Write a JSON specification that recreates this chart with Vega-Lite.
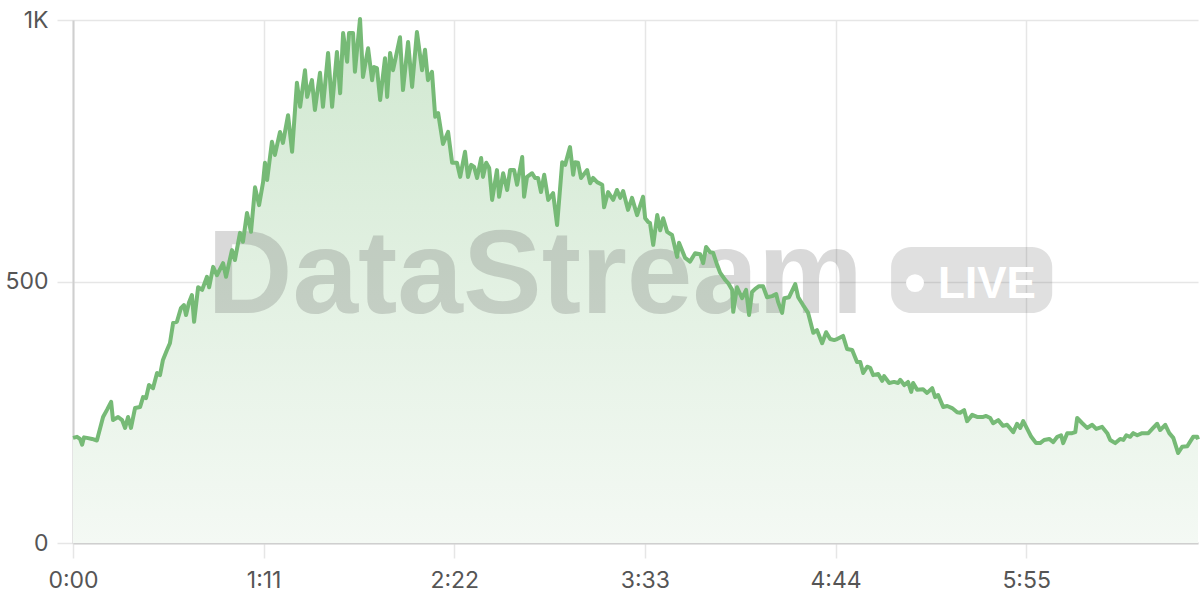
{
  "$schema": "https://vega.github.io/schema/vega-lite/v6.json",
  "width": 1125,
  "height": 523,
  "autosize": {"type": "none"},
  "padding": {"left": 73, "top": 20, "right": 2, "bottom": 57},
  "background": "white",
  "config": {"view": {"stroke": null}, "font": "Inter"},
  "datasets": {
    "series": [
      {"t":0,"v":201},{"t":1.5,"v":203},{"t":2.6,"v":199},{"t":3.4,"v":188},{"t":4.1,"v":202},{"t":5.2,"v":201},{"t":7.1,"v":199},{"t":8.9,"v":196},
      {"t":11.2,"v":241},{"t":12.7,"v":255},{"t":14.2,"v":270},{"t":14.9,"v":235},{"t":16.8,"v":241},{"t":18.3,"v":235},{"t":19.4,"v":220},{"t":20.5,"v":241},
      {"t":21.6,"v":220},{"t":23.1,"v":258},{"t":25.0,"v":260},{"t":26.1,"v":279},{"t":27.2,"v":277},{"t":28.3,"v":302},{"t":29.8,"v":296},{"t":31.3,"v":325},
      {"t":32.4,"v":321},{"t":33.5,"v":350},{"t":35.0,"v":369},{"t":36.1,"v":382},{"t":37.3,"v":421},{"t":38.7,"v":423},{"t":40.2,"v":449},{"t":41.3,"v":455},
      {"t":42.1,"v":436},{"t":43.2,"v":460},{"t":44.3,"v":474},{"t":45.1,"v":423},{"t":46.6,"v":489},{"t":48.1,"v":484},{"t":49.9,"v":509},{"t":50.7,"v":489},
      {"t":52.2,"v":528},{"t":53.6,"v":512},{"t":55.9,"v":535},{"t":57.0,"v":509},{"t":59.2,"v":560},{"t":60.3,"v":541},{"t":62.2,"v":593},{"t":63.3,"v":576},
      {"t":64.8,"v":631},{"t":66.3,"v":595},{"t":67.8,"v":680},{"t":69.3,"v":646},{"t":70.8,"v":690},{"t":71.5,"v":727},{"t":72.3,"v":694},{"t":74.1,"v":767},
      {"t":75.2,"v":742},{"t":77.1,"v":786},{"t":78.2,"v":765},{"t":80.1,"v":818},{"t":81.6,"v":748},{"t":83.4,"v":880},{"t":84.6,"v":834},{"t":86.4,"v":904},
      {"t":87.2,"v":853},{"t":89.0,"v":885},{"t":90.1,"v":828},{"t":92.0,"v":899},{"t":93.1,"v":834},{"t":95.0,"v":937},{"t":96.5,"v":834},{"t":98.3,"v":939},
      {"t":99.5,"v":860},{"t":100.6,"v":975},{"t":102.1,"v":920},{"t":102.8,"v":975},{"t":104.3,"v":975},{"t":105.0,"v":901},{"t":106.9,"v":1002},{"t":108.0,"v":891},
      {"t":109.9,"v":946},{"t":111.4,"v":885},{"t":112.1,"v":910},{"t":113.2,"v":908},{"t":114.4,"v":847},{"t":116.2,"v":927},{"t":117.0,"v":853},{"t":118.1,"v":937},
      {"t":119.2,"v":904},{"t":121.8,"v":967},{"t":122.9,"v":866},{"t":124.8,"v":958},{"t":126.3,"v":872},{"t":128.1,"v":977},{"t":130.0,"v":904},{"t":131.1,"v":943},
      {"t":132.2,"v":885},{"t":133.7,"v":901},{"t":134.9,"v":815},{"t":136.0,"v":822},{"t":137.8,"v":763},{"t":139.7,"v":786},{"t":141.2,"v":727},{"t":143.0,"v":727},
      {"t":144.2,"v":700},{"t":146.0,"v":748},{"t":147.1,"v":700},{"t":148.3,"v":723},{"t":149.4,"v":719},{"t":150.5,"v":698},{"t":152.0,"v":736},{"t":152.7,"v":700},
      {"t":153.9,"v":727},{"t":155.0,"v":717},{"t":156.1,"v":656},{"t":157.9,"v":713},{"t":158.7,"v":662},{"t":160.2,"v":707},{"t":161.7,"v":675},{"t":162.8,"v":713},
      {"t":164.3,"v":713},{"t":165.4,"v":685},{"t":167.3,"v":738},{"t":168.0,"v":662},{"t":169.1,"v":700},{"t":171.0,"v":707},{"t":172.1,"v":698},{"t":173.2,"v":698},
      {"t":174.3,"v":671},{"t":175.5,"v":704},{"t":177.0,"v":656},{"t":178.8,"v":669},{"t":180.3,"v":608},{"t":182.2,"v":728},{"t":183.3,"v":723},{"t":185.1,"v":757},
      {"t":186.3,"v":704},{"t":187.0,"v":728},{"t":188.1,"v":727},{"t":189.2,"v":698},{"t":191.5,"v":713},{"t":192.6,"v":688},{"t":193.7,"v":698},{"t":195.2,"v":690},
      {"t":197.1,"v":685},{"t":197.8,"v":642},{"t":199.3,"v":671},{"t":201.2,"v":656},{"t":202.6,"v":675},{"t":203.8,"v":660},{"t":204.9,"v":673},{"t":206.7,"v":637},
      {"t":208.2,"v":660},{"t":210.1,"v":627},{"t":212.3,"v":662},{"t":213.1,"v":621},{"t":214.2,"v":614},{"t":214.9,"v":612},{"t":216.1,"v":570},{"t":217.6,"v":627},
      {"t":218.7,"v":598},{"t":219.8,"v":621},{"t":221.3,"v":595},{"t":223.1,"v":589},{"t":225.0,"v":547},{"t":225.7,"v":574},{"t":228.0,"v":545},{"t":229.8,"v":538},
      {"t":231.7,"v":554},{"t":233.6,"v":552},{"t":234.7,"v":535},{"t":235.8,"v":566},{"t":237.3,"v":556},{"t":238.4,"v":555},{"t":239.9,"v":532},{"t":241.0,"v":517},
      {"t":242.9,"v":503},{"t":244.0,"v":497},{"t":245.5,"v":484},{"t":245.9,"v":442},{"t":247.3,"v":489},{"t":249.2,"v":468},{"t":250.7,"v":484},{"t":251.8,"v":436},
      {"t":252.9,"v":480},{"t":254.1,"v":486},{"t":255.5,"v":491},{"t":257.0,"v":491},{"t":258.5,"v":470},{"t":260.4,"v":472},{"t":261.9,"v":476},{"t":262.6,"v":461},
      {"t":264.1,"v":440},{"t":264.9,"v":468},{"t":266.7,"v":470},{"t":269.0,"v":495},{"t":270.1,"v":470},{"t":271.9,"v":455},{"t":273.8,"v":440},{"t":275.7,"v":402},
      {"t":277.1,"v":407},{"t":279.0,"v":382},{"t":280.5,"v":403},{"t":282.0,"v":390},{"t":283.5,"v":388},{"t":284.6,"v":390},{"t":285.7,"v":393},{"t":286.8,"v":396},
      {"t":288.3,"v":371},{"t":290.2,"v":369},{"t":292.0,"v":346},{"t":293.2,"v":346},{"t":294.3,"v":325},{"t":295.8,"v":337},{"t":296.9,"v":335},{"t":298.0,"v":321},
      {"t":299.9,"v":323},{"t":301.4,"v":310},{"t":302.1,"v":319},{"t":304.0,"v":306},{"t":305.8,"v":308},{"t":307.3,"v":306},{"t":308.1,"v":312},{"t":309.6,"v":302},
      {"t":311.0,"v":308},{"t":312.2,"v":289},{"t":312.9,"v":306},{"t":314.4,"v":293},{"t":316.6,"v":294},{"t":318.1,"v":287},{"t":320.0,"v":296},{"t":321.1,"v":279},
      {"t":322.2,"v":283},{"t":324.1,"v":260},{"t":325.6,"v":262},{"t":327.4,"v":258},{"t":329.3,"v":250},{"t":330.4,"v":249},{"t":331.9,"v":254},{"t":333.0,"v":233},
      {"t":334.9,"v":245},{"t":336.7,"v":241},{"t":339.0,"v":241},{"t":340.1,"v":243},{"t":341.6,"v":239},{"t":342.7,"v":229},{"t":344.6,"v":235},{"t":346.4,"v":224},
      {"t":347.9,"v":226},{"t":350.2,"v":212},{"t":351.6,"v":228},{"t":352.8,"v":220},{"t":353.9,"v":233},{"t":355.0,"v":222},{"t":356.9,"v":203},{"t":358.7,"v":191},
      {"t":360.2,"v":191},{"t":361.7,"v":197},{"t":363.6,"v":199},{"t":365.1,"v":193},{"t":366.6,"v":203},{"t":368.0,"v":206},{"t":368.8,"v":191},{"t":370.3,"v":210},
      {"t":372.1,"v":210},{"t":373.3,"v":212},{"t":374.0,"v":239},{"t":375.9,"v":229},{"t":377.7,"v":220},{"t":379.6,"v":226},{"t":381.1,"v":218},{"t":383.3,"v":222},
      {"t":385.2,"v":210},{"t":386.3,"v":197},{"t":388.2,"v":191},{"t":390.0,"v":199},{"t":391.2,"v":197},{"t":392.3,"v":206},{"t":393.7,"v":203},{"t":394.9,"v":210},
      {"t":396.4,"v":206},{"t":398.2,"v":210},{"t":400.5,"v":210},{"t":402.3,"v":220},{"t":403.8,"v":228},{"t":404.9,"v":216},{"t":406.8,"v":226},{"t":408.3,"v":210},
      {"t":409.8,"v":201},{"t":411.6,"v":172},{"t":413.1,"v":184},{"t":415.0,"v":185},{"t":417.2,"v":203},{"t":418.7,"v":203},{"t":419,"v":198}
    ]
  },
  "layer": [
    {
      "data": {"name": "series"},
      "mark": {
        "type": "area",
        "interpolate": "linear",
        "color": {
          "gradient": "linear",
          "x1": 0, "y1": 0, "x2": 0, "y2": 1,
          "stops": [
            {"offset": 0, "color": "#d0e8d0"},
            {"offset": 1, "color": "#f4f9f4"}
          ]
        }
      },
      "encoding": {
        "x": {
          "field": "t", "type": "quantitative",
          "scale": {"domain": [0, 419], "nice": false, "zero": false},
          "axis": {
            "values": [0, 71, 142, 213, 284, 355],
            "labelExpr": "floor(datum.value/60) + ':' + (datum.value%60 < 10 ? '0' : '') + (datum.value%60)",
            "title": null,
            "labelFlush": false,
            "grid": true, "gridColor": "#e6e6e6", "gridWidth": 1.5,
            "domainColor": "#cfcfcf", "domainWidth": 2,
            "tickColor": "#e6e6e6", "tickSize": 15, "tickWidth": 1.5,
            "labelFontSize": 23, "labelColor": "#555555", "labelPadding": 11, "labelFont": "Inter"
          }
        },
        "y": {
          "field": "v", "type": "quantitative",
          "scale": {"domain": [0, 1000], "nice": false},
          "axis": {
            "values": [0, 500, 1000],
            "labelExpr": "datum.value >= 1000 ? '1K' : datum.label",
            "title": null,
            "labelFlush": false,
            "grid": true, "gridColor": "#e6e6e6", "gridWidth": 1.5,
            "domainColor": "#cfcfcf", "domainWidth": 2,
            "tickColor": "#e6e6e6", "tickSize": 16, "tickWidth": 1.5,
            "labelFontSize": 23, "labelColor": "#555555", "labelPadding": 9, "labelFont": "Inter"
          }
        }
      }
    },
    {
      "data": {"values": [{"label": "DataStream"}]},
      "mark": {"type": "text", "font": "Liberation Sans", "fontWeight": "bold", "fontSize": 118, "align": "center", "baseline": "alphabetic", "color": "#555555", "opacity": 0.22},
      "encoding": {
        "text": {"field": "label"},
        "x": {"datum": 172.1, "type": "quantitative"},
        "y": {"datum": 440, "type": "quantitative"}
      }
    },
    {
      "data": {"values": [{"label": "badge"}]},
      "mark": {"type": "rect", "color": "#555555", "opacity": 0.18, "cornerRadius": 20},
      "encoding": {
        "x": {"datum": 304.7, "type": "quantitative"},
        "x2": {"datum": 364.7},
        "y": {"datum": 566, "type": "quantitative"},
        "y2": {"datum": 440}
      }
    },
    {
      "data": {"values": [{"label": "dot"}]},
      "mark": {"type": "point", "shape": "circle", "filled": true, "color": "white", "opacity": 1, "size": 320},
      "encoding": {
        "x": {"datum": 313.6, "type": "quantitative"},
        "y": {"datum": 497, "type": "quantitative"}
      }
    },
    {
      "data": {"values": [{"label": "LIVE"}]},
      "mark": {"type": "text", "font": "Liberation Sans", "fontWeight": "bold", "fontSize": 44, "align": "left", "baseline": "alphabetic", "color": "white"},
      "encoding": {
        "text": {"field": "label"},
        "x": {"datum": 322.2, "type": "quantitative"},
        "y": {"datum": 468.5, "type": "quantitative"}
      }
    },
    {
      "data": {"name": "series"},
      "mark": {"type": "line", "color": "#76ba76", "strokeWidth": 4, "strokeJoin": "round", "interpolate": "linear"},
      "encoding": {
        "x": {"field": "t", "type": "quantitative"},
        "y": {"field": "v", "type": "quantitative"}
      }
    }
  ]
}
